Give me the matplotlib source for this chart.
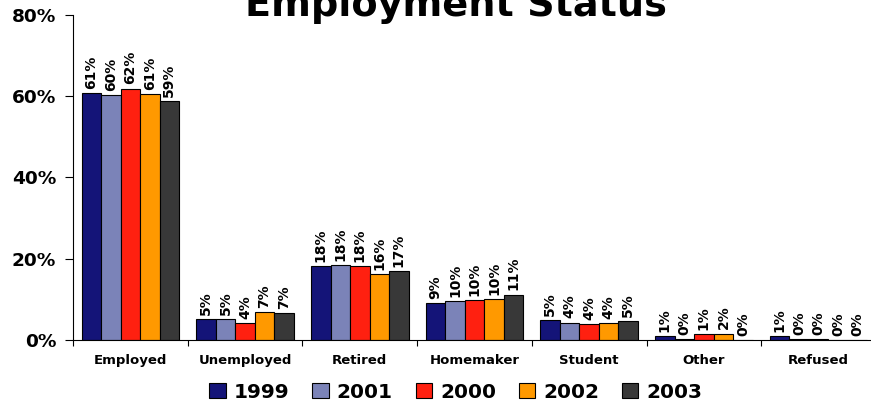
import numpy as np
import matplotlib
matplotlib.use("Agg")
import matplotlib.pyplot as plt

# data
categories = ["Employed", "Unemployed", "Retired", "Homemaker", "Student", "Other", "Refused"]
years = ["1999", "2001", "2000", "2002", "2003"]
v1999 = [60.8, 5.1, 18.1, 9.1, 5.0, 1.0, 1.0]
v2001 = [60.2, 5.1, 18.4, 9.5, 4.3, 0.2, 0.2]
v2000 = [61.9, 4.1, 18.1, 9.9, 3.9, 1.4, 0.2]
v2002 = [60.6, 6.9, 16.2, 10.1, 4.1, 1.6, 0.0]
v2003 = [58.8, 6.7, 17.0, 11.2, 4.6, 0.0, 0.0]
series = [v1999, v2001, v2000, v2002, v2003]
colors = ["#141478", "#7B83B8", "#FF2010", "#FF9900", "#383838"]
yticks = [0, 20, 40, 60, 80]

plt.rcParams['font.family'] = ['DejaVu Sans']
plt.rcParams['font.weight'] = 'bold'

W, H = 871, 404
fig = plt.figure(figsize=(W / 100, H / 100), dpi=100)
ax = fig.add_axes([73 / W, 64 / H, 803 / W, 325 / H])

n = len(series)
bw = 0.17
x = np.arange(len(categories)) + 0.5
for i, (vals, col) in enumerate(zip(series, colors)):
    pos = x + (i - (n - 1) / 2) * bw
    ax.bar(pos, vals, width=bw, color=col, edgecolor="black", linewidth=0.8,
           label=years[i])
    for px, v in zip(pos, vals):
        ax.annotate(f"{round(v):.0f}%", (px, v), xytext=(0, 3),
                    textcoords="offset points", rotation=90, ha="center",
                    va="bottom", fontsize=10, fontweight="bold")

ax.set_xlim(0, len(categories))
ax.set_ylim(0, 80)
ax.set_yticks(yticks)
ax.set_yticklabels([f"{t}%" for t in yticks], fontsize=13.3, fontweight="bold")
ax.tick_params(axis="y", direction="out", length=6, pad=6)

ax.set_xticks(np.arange(len(categories) + 1))
ax.set_xticklabels([])
ax.set_xticks(x, minor=True)
ax.set_xticklabels(categories, minor=True, fontsize=9.5, fontweight="bold")
ax.tick_params(axis="x", which="major", direction="out", length=4)
ax.tick_params(axis="x", which="minor", length=0, pad=10)

for s in ["top", "right"]:
    ax.spines[s].set_visible(False)

fig.text(456 / W, 1 - 15.7 / H, "Employment Status", ha="center", va="baseline",
         fontsize=27.5, fontweight="bold")

fig.legend(loc="center", bbox_to_anchor=(456 / W, 1 - 392 / H), ncol=5,
           frameon=False, prop={"size": 14.5, "weight": "bold"},
           handlelength=0.8, handleheight=0.75, handletextpad=0.4,
           columnspacing=1.15, borderpad=0)

fig.savefig("out.png", dpi=100)
